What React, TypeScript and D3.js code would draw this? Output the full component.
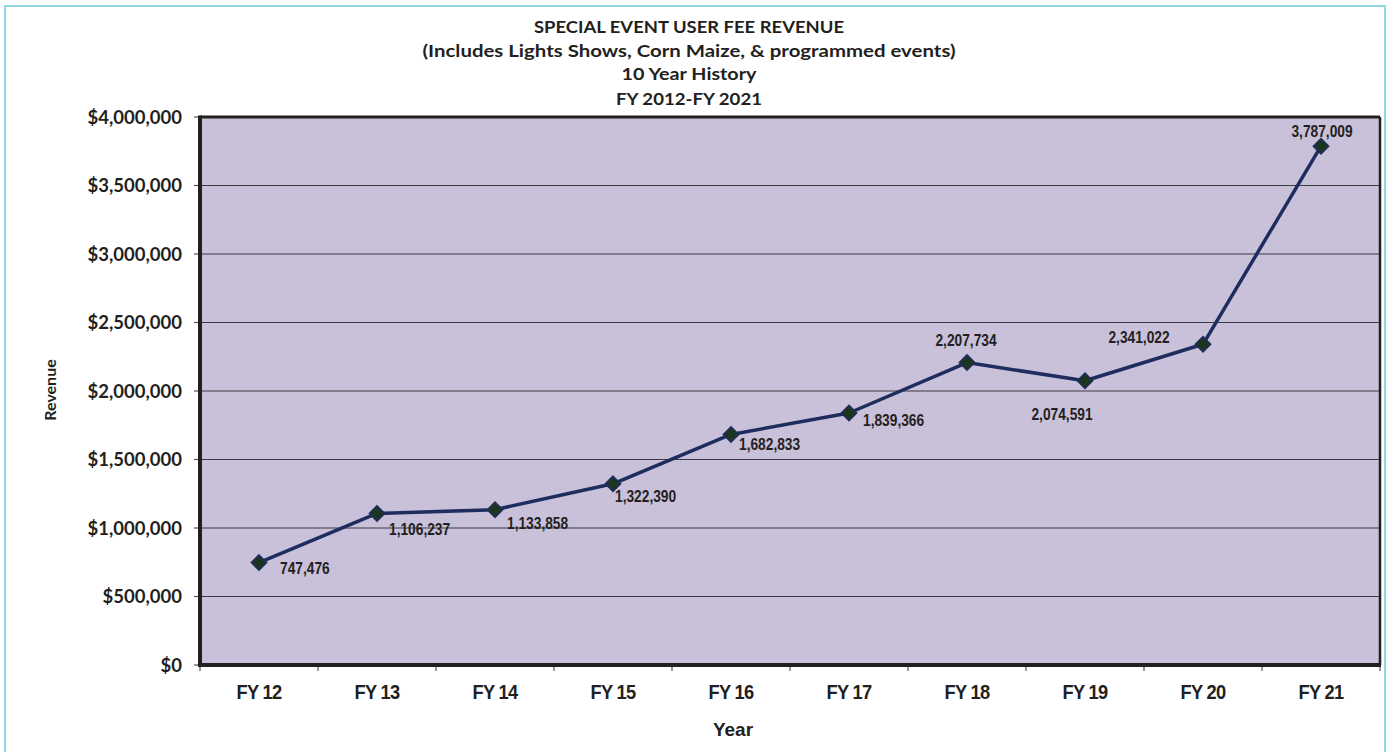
import React from 'react';
import * as d3 from 'd3';

const WIDTH = 1388;
const HEIGHT = 752;
const PLOT = { left: 200, right: 1380, top: 117, bottom: 665 };

const years = ['FY 12', 'FY 13', 'FY 14', 'FY 15', 'FY 16', 'FY 17', 'FY 18', 'FY 19', 'FY 20', 'FY 21'];
const revenue = [747476, 1106237, 1133858, 1322390, 1682833, 1839366, 2207734, 2074591, 2341022, 3787009];
const yTicks = [0, 500000, 1000000, 1500000, 2000000, 2500000, 3000000, 3500000, 4000000];
const titleLines = [
  'SPECIAL EVENT USER FEE REVENUE',
  '(Includes Lights Shows, Corn Maize, & programmed events)',
  '10 Year History',
  'FY 2012-FY 2021',
];

// where each value label sits relative to its marker (Excel-ish placement)
const labelPlacement: [string, number, number][] = [
  ['start', 21, 5],
  ['start', 12, 16],
  ['start', 12, 13],
  ['start', 2, 12],
  ['start', 8, 10],
  ['start', 14, 7],
  ['middle', -1, -23],
  ['middle', -23, 33],
  ['middle', -64, -7],
  ['middle', 1, -15],
];

const titleWidths = [310, 533, 135, 146];
const titleBaselines = [32.5, 56.5, 80, 104.5];

const INK = '#231f20';
const CALIBRI = 'Lato, "Open Sans", sans-serif';
const ARIAL = '"Liberation Sans", Arial, sans-serif';

const App = () => {
  const xScale = d3.scaleBand<string>().domain(years).range([PLOT.left, PLOT.right]).padding(0);
  const yScale = d3.scaleLinear().domain([0, 4000000]).range([PLOT.bottom, PLOT.top]);
  const cx = (d: string) => (xScale(d) ?? 0) + xScale.bandwidth() / 2;

  const fmtMoney = d3.format('$,');
  const fmtNum = d3.format(',');

  const points = years.map((yr, i) => [cx(yr), yScale(revenue[i])] as [number, number]);
  const linePath = d3.line()(points) ?? '';
  const diamond = d3.symbol(d3.symbolDiamond2, 150)() ?? '';

  const boundaries = years.map((yr) => xScale(yr) ?? 0).concat([PLOT.right]);

  return (
    <svg width={WIDTH} height={HEIGHT} style={{ position: 'absolute', left: 0, top: 0, background: '#fff' }}>
      {/* outer frame */}
      <rect x={5} y={6} width={1380} height={760} fill="#fff" stroke="#8fd6e2" strokeWidth={2} />

      {titleLines.map((t, i) => (
        <text
          key={t}
          x={689}
          y={titleBaselines[i]}
          textAnchor="middle"
          fontFamily={CALIBRI}
          fontWeight={700}
          fontSize={17.5}
          fill={INK}
          textLength={titleWidths[i]}
          lengthAdjust="spacingAndGlyphs"
        >
          {t}
        </text>
      ))}

      {/* plot area */}
      <rect x={PLOT.left} y={PLOT.top} width={PLOT.right - PLOT.left} height={PLOT.bottom - PLOT.top} fill="#c9c0da" />

      {yTicks.map((t) => (
        <g key={t}>
          {t > 0 && t < 4000000 && (
            <line x1={PLOT.left} x2={PLOT.right} y1={yScale(t)} y2={yScale(t)} stroke="#3c3a40" strokeWidth={1.1} />
          )}
          <line x1={PLOT.left - 6} x2={PLOT.left} y1={yScale(t)} y2={yScale(t)} stroke="#555" strokeWidth={1.2} />
          <text
            x={182}
            y={yScale(t) + 6.5}
            textAnchor="end"
            fontFamily={CALIBRI}
            fontWeight={700}
            fontSize={18.5}
            fill={INK}
          >
            {fmtMoney(t)}
          </text>
        </g>
      ))}

      {boundaries.map((bx, i) => (
        <line key={i} x1={bx} x2={bx} y1={PLOT.bottom} y2={PLOT.bottom + 6} stroke="#555" strokeWidth={1.2} />
      ))}

      {/* plot border: heavy left/bottom, lighter top/right */}
      <line x1={PLOT.left} x2={PLOT.right} y1={PLOT.top} y2={PLOT.top} stroke={INK} strokeWidth={3} />
      <line x1={PLOT.right} x2={PLOT.right} y1={PLOT.top} y2={PLOT.bottom} stroke={INK} strokeWidth={2.5} />
      <line x1={PLOT.left} x2={PLOT.left} y1={PLOT.top - 1.5} y2={PLOT.bottom + 2} stroke={INK} strokeWidth={4} />
      <line x1={PLOT.left} x2={PLOT.right + 1} y1={PLOT.bottom} y2={PLOT.bottom} stroke={INK} strokeWidth={4} />

      <path d={linePath} fill="none" stroke="#1f2d5e" strokeWidth={3.5} strokeLinejoin="round" />

      {points.map(([px, py], i) => (
        <path
          key={years[i]}
          d={diamond}
          transform={`translate(${px},${py})`}
          fill="#1c3520"
          stroke="#1f2d5e"
          strokeWidth={1.5}
        />
      ))}

      {points.map(([px, py], i) => {
        const [anchor, dx, dy] = labelPlacement[i];
        return (
          <text
            key={'l' + years[i]}
            transform={`translate(${px + dx},${py + dy + 6}) scale(0.86,1)`}
            textAnchor={anchor}
            fontFamily={ARIAL}
            fontWeight={700}
            fontSize={16}
            fill={INK}
          >
            {fmtNum(revenue[i])}
          </text>
        );
      })}

      {years.map((yr) => (
        <text
          key={yr}
          transform={`translate(${cx(yr)},${699}) scale(0.87,1)`}
          textAnchor="middle"
          fontFamily={ARIAL}
          fontWeight={700}
          fontSize={21}
          letterSpacing={-0.8}
          fill={INK}
        >
          {yr}
        </text>
      ))}

      <text x={733} y={736} textAnchor="middle" fontFamily={ARIAL} fontWeight={700} fontSize={19} fill={INK}>
        Year
      </text>

      <text
        transform="translate(56,390) rotate(-90)"
        textAnchor="middle"
        fontFamily={CALIBRI}
        fontWeight={700}
        fontSize={16}
        fill={INK}
      >
        Revenue
      </text>
    </svg>
  );
};

export default App;
